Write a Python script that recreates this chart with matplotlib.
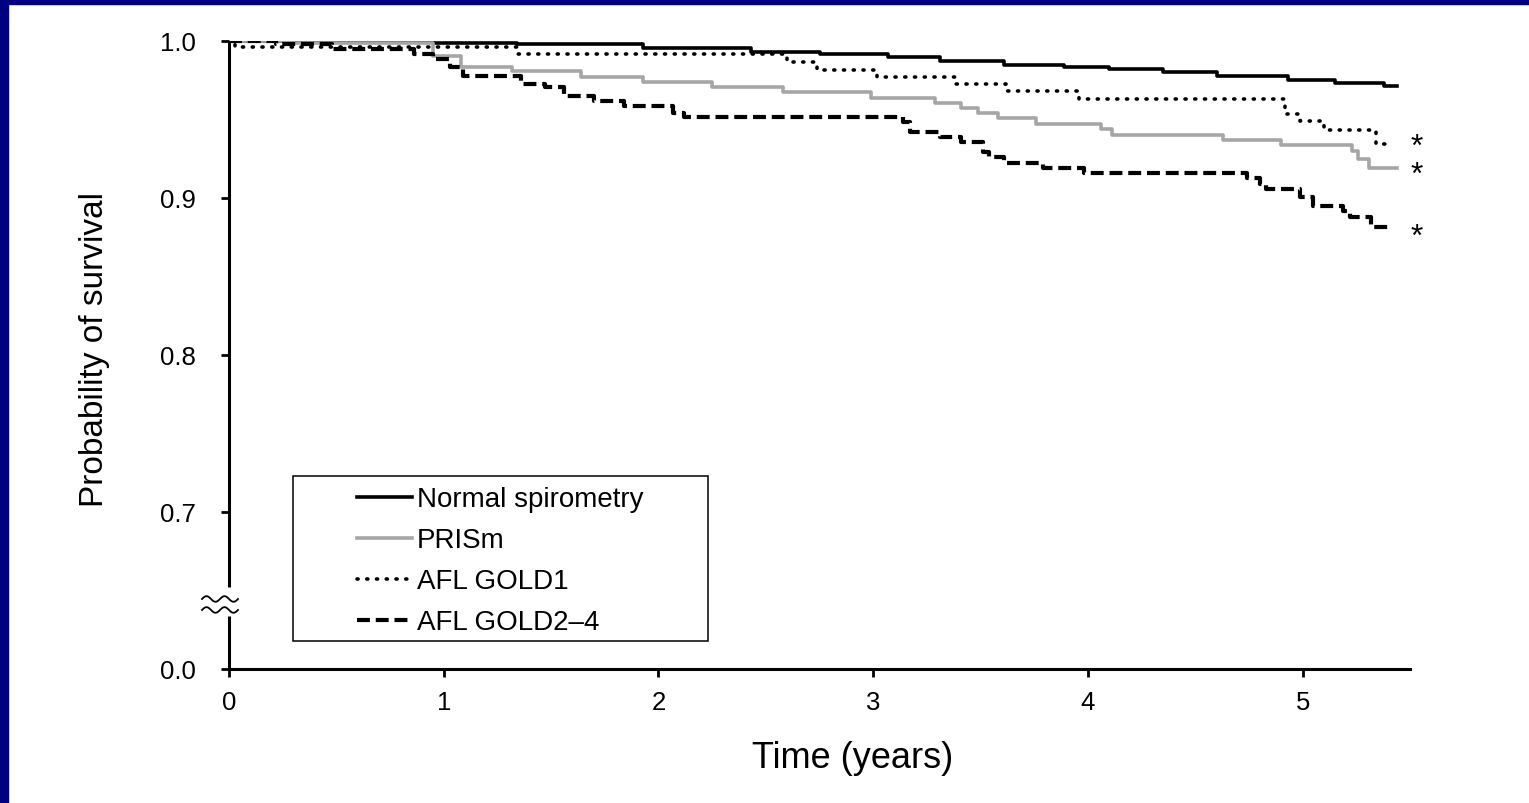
import matplotlib
matplotlib.use("Agg")
import matplotlib.pyplot as plt
from matplotlib.patches import Rectangle
import numpy as np

plt.rcParams['font.family'] = ['Liberation Sans', 'DejaVu Sans']

# ---- data (Kaplan-Meier step curves) ----
t_normal = [0, 0.95, 1.34, 1.93, 2.43, 2.75, 3.07, 3.31, 3.61, 3.89, 4.10, 4.35, 4.60, 4.93, 5.15, 5.38, 5.44]
s_normal = [1.0, 0.999, 0.998, 0.9955, 0.993, 0.9915, 0.990, 0.9875, 0.985, 0.9835, 0.982, 0.980, 0.978, 0.975, 0.973, 0.9715, 0.9715]

t_prism = [0, 0.30, 0.95, 1.08, 1.32, 1.64, 1.93, 2.25, 2.58, 2.99, 3.29, 3.41, 3.49, 3.58, 3.76, 4.06, 4.11, 4.63, 4.90, 5.23, 5.26, 5.31, 5.44]
s_prism = [1.0, 0.9985, 0.9904, 0.9834, 0.9809, 0.977, 0.9739, 0.9707, 0.9675, 0.9637, 0.9605, 0.9573, 0.9541, 0.951, 0.9471, 0.944, 0.940, 0.937, 0.9338, 0.930, 0.925, 0.919, 0.919]

t_gold1 = [0, 0.03, 1.34, 2.60, 2.74, 3.02, 3.38, 3.62, 3.96, 4.92, 4.99, 5.10, 5.34, 5.41]
s_gold1 = [1.0, 0.9962, 0.9917, 0.9866, 0.9815, 0.977, 0.9726, 0.968, 0.963, 0.9535, 0.949, 0.9433, 0.9344, 0.9344]

t_gold24 = [0, 0.22, 0.48, 0.86, 0.95, 1.03, 1.09, 1.36, 1.47, 1.56, 1.70, 1.84, 2.07, 2.12, 3.14, 3.17,
            3.31, 3.41, 3.51, 3.54, 3.61, 3.79, 3.98, 4.74, 4.80, 4.83, 4.99, 5.05, 5.19, 5.22, 5.32, 5.42]
s_gold24 = [1.0, 0.998, 0.9949, 0.9917, 0.9885, 0.9834, 0.9777, 0.9726, 0.9707, 0.965, 0.9618, 0.9586, 0.9541, 0.9516, 0.9484, 0.942,
            0.9389, 0.9357, 0.9293, 0.9261, 0.9223, 0.9191, 0.9159, 0.9127, 0.9089, 0.9057, 0.9006, 0.8949, 0.8917, 0.8879, 0.8815, 0.8815]

labels = ["Normal spirometry", "PRISm", "AFL GOLD1", "AFL GOLD2\u20134"]
x_ticks = [0, 1, 2, 3, 4, 5]
y_ticks = [0.6, 0.7, 0.8, 0.9, 1.0]
y_ticklabels = ["0.0", "0.7", "0.8", "0.9", "1.0"]
star_y = [0.9272, 0.9098, 0.8703]   # baselines of the significance asterisks

# ---- figure ----
fig = plt.figure(figsize=(15.29, 8.04), dpi=100)
fig.patch.set_facecolor("white")
W, H = 1529, 804
ax = fig.add_axes([229 / W, 1 - 670 / H, (1410 - 229) / W, (670 - 42) / H])

l1, = ax.step(t_normal, s_normal, where="post", color="black", lw=2.6)
l2, = ax.step(t_prism, s_prism, where="post", color="#a6a6a6", lw=2.6)
l3, = ax.step(t_gold1, s_gold1, where="post", color="black", lw=2.6,
              dashes=(0.3, 2.4), dash_capstyle="round")
l4, = ax.step(t_gold24, s_gold24, where="post", color="black", lw=3.0,
              dashes=(3.1, 1.4))

ax.set_xlim(0, 5.5)
ax.set_ylim(0.6, 1.0)
ax.set_xticks(x_ticks)
ax.set_yticks(y_ticks)
ax.set_yticklabels(y_ticklabels)
ax.tick_params(axis="both", direction="out", length=6, width=2, labelsize=18.5, color="black")
ax.tick_params(axis="y", pad=18)
ax.tick_params(axis="x", pad=9)

for s in ["top", "right", "left"]:
    ax.spines[s].set_visible(False)
ax.spines["bottom"].set_linewidth(2.2)

# left axis line with break
ytr = ax.get_yaxis_transform()
ax.plot([0, 0], [0.6, 0.6338], transform=ytr, color="black", lw=2.2, clip_on=False, solid_capstyle="butt")
ax.plot([0, 0], [0.6522, 1.0], transform=ytr, color="black", lw=2.2, clip_on=False, solid_capstyle="butt")
# break marks (squiggles)
xs = np.linspace(-27 / 1181, 9 / 1181, 40)
for yc in [0.6446, 0.6376]:
    ys = yc + 0.0018 * np.sin((xs - xs[0]) / (xs[-1] - xs[0]) * 2 * np.pi * 2)
    ax.plot(xs, ys, transform=ytr, color="black", lw=1.3, clip_on=False)

ax.set_xlabel("Time (years)", fontsize=26)
ax.xaxis.set_label_coords((853 - 229) / 1181, -(758 - 670) / 628)
ax.set_ylabel("Probability of survival", fontsize=24)
ax.yaxis.set_label_coords(-(229 - 95) / 1181, (670 - 350) / 628)
ax.xaxis.label.set_va("center")
ax.yaxis.label.set_va("center")

# asterisks
for yv in star_y:
    ax.text(5.53, yv, "*", fontsize=23, ha="center", va="baseline", clip_on=False)

# legend (frame drawn separately)
leg = ax.legend([l1, l2, l3, l4], labels, loc="upper left",
                bbox_to_anchor=((355 - 229 - 6) / 1181, (670 - 479) / 628),
                frameon=False, fontsize=20, handlelength=1.95, handletextpad=0.2,
                labelspacing=0.54, borderpad=0.3, borderaxespad=0)
ax.add_patch(Rectangle(((293 - 229) / 1181, (670 - 642) / 628), (708 - 293) / 1181, (642 - 477) / 628,
                       transform=ax.transAxes, fill=False, edgecolor="black", lw=1.1, clip_on=False))

# navy frame on the left and top
fig.add_artist(Rectangle((0, 0), 8 / W, 1, transform=fig.transFigure, color="#000080", zorder=10))
fig.add_artist(Rectangle((0, 1 - 5 / H), 1, 5 / H, transform=fig.transFigure, color="#000080", zorder=10))

fig.savefig("out.png", dpi=100)
